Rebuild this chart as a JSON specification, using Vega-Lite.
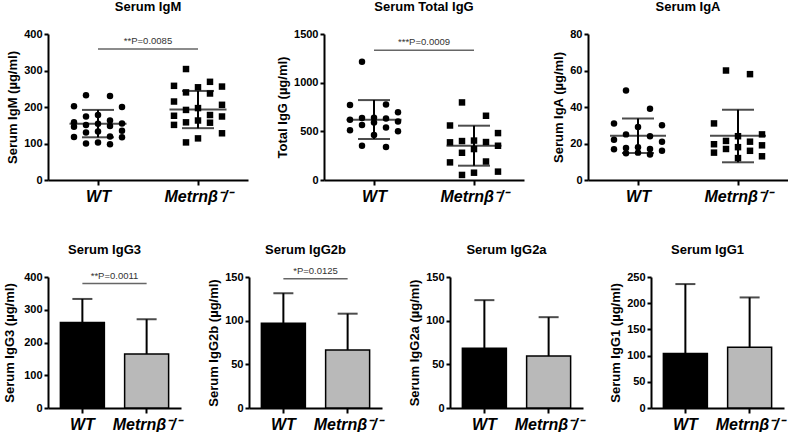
{
"$schema":"https://vega.github.io/schema/vega-lite/v6.json",
"padding":{"left":3,"top":1,"right":0,"bottom":0},
"background":"#ffffff",
"config":{
 "font":"Liberation Sans",
 "view":{"stroke":null},
 "axis":{"grid":false,"domainColor":"#000","domainWidth":2,"tickColor":"#000","tickWidth":2,"tickSize":4,"labelFont":"Liberation Sans","labelFontWeight":"bold","labelFontSize":11,"labelColor":"#000","titleFont":"Liberation Sans","titleFontWeight":"bold","titleFontSize":13,"titleColor":"#000","titlePadding":4,"labelOverlap":false},
 "title":{"font":"Liberation Sans","fontSize":13,"fontWeight":"bold","color":"#000"}
},
"datasets":{
 "scatter":[
  {"panel":"IgM","group":"WT","value":232},{"panel":"IgM","group":"WT","value":230},{"panel":"IgM","group":"WT","value":202},{"panel":"IgM","group":"WT","value":200},{"panel":"IgM","group":"WT","value":178},{"panel":"IgM","group":"WT","value":174},{"panel":"IgM","group":"WT","value":163},{"panel":"IgM","group":"WT","value":158},{"panel":"IgM","group":"WT","value":155},{"panel":"IgM","group":"WT","value":154},{"panel":"IgM","group":"WT","value":151},{"panel":"IgM","group":"WT","value":148},{"panel":"IgM","group":"WT","value":146},{"panel":"IgM","group":"WT","value":135},{"panel":"IgM","group":"WT","value":133},{"panel":"IgM","group":"WT","value":130},{"panel":"IgM","group":"WT","value":119},{"panel":"IgM","group":"WT","value":118},{"panel":"IgM","group":"WT","value":117},{"panel":"IgM","group":"WT","value":103},{"panel":"IgM","group":"WT","value":98},{"panel":"IgM","group":"WT","value":100},
  {"panel":"IgM","group":"Metrnβ⁻/⁻","value":304},{"panel":"IgM","group":"Metrnβ⁻/⁻","value":269},{"panel":"IgM","group":"Metrnβ⁻/⁻","value":258},{"panel":"IgM","group":"Metrnβ⁻/⁻","value":256},{"panel":"IgM","group":"Metrnβ⁻/⁻","value":254},{"panel":"IgM","group":"Metrnβ⁻/⁻","value":240},{"panel":"IgM","group":"Metrnβ⁻/⁻","value":237},{"panel":"IgM","group":"Metrnβ⁻/⁻","value":215},{"panel":"IgM","group":"Metrnβ⁻/⁻","value":206},{"panel":"IgM","group":"Metrnβ⁻/⁻","value":197},{"panel":"IgM","group":"Metrnβ⁻/⁻","value":192},{"panel":"IgM","group":"Metrnβ⁻/⁻","value":178},{"panel":"IgM","group":"Metrnβ⁻/⁻","value":176},{"panel":"IgM","group":"Metrnβ⁻/⁻","value":174},{"panel":"IgM","group":"Metrnβ⁻/⁻","value":163},{"panel":"IgM","group":"Metrnβ⁻/⁻","value":158},{"panel":"IgM","group":"Metrnβ⁻/⁻","value":157},{"panel":"IgM","group":"Metrnβ⁻/⁻","value":151},{"panel":"IgM","group":"Metrnβ⁻/⁻","value":128},{"panel":"IgM","group":"Metrnβ⁻/⁻","value":114},{"panel":"IgM","group":"Metrnβ⁻/⁻","value":103},
  {"panel":"IgG","group":"WT","value":1215},{"panel":"IgG","group":"WT","value":775},{"panel":"IgG","group":"WT","value":770},{"panel":"IgG","group":"WT","value":695},{"panel":"IgG","group":"WT","value":640},{"panel":"IgG","group":"WT","value":636},{"panel":"IgG","group":"WT","value":633},{"panel":"IgG","group":"WT","value":620},{"panel":"IgG","group":"WT","value":600},{"panel":"IgG","group":"WT","value":590},{"panel":"IgG","group":"WT","value":565},{"panel":"IgG","group":"WT","value":540},{"panel":"IgG","group":"WT","value":510},{"panel":"IgG","group":"WT","value":500},{"panel":"IgG","group":"WT","value":462},{"panel":"IgG","group":"WT","value":352},{"panel":"IgG","group":"WT","value":340},
  {"panel":"IgG","group":"Metrnβ⁻/⁻","value":797},{"panel":"IgG","group":"Metrnβ⁻/⁻","value":660},{"panel":"IgG","group":"Metrnβ⁻/⁻","value":560},{"panel":"IgG","group":"Metrnβ⁻/⁻","value":482},{"panel":"IgG","group":"Metrnβ⁻/⁻","value":405},{"panel":"IgG","group":"Metrnβ⁻/⁻","value":400},{"panel":"IgG","group":"Metrnβ⁻/⁻","value":390},{"panel":"IgG","group":"Metrnβ⁻/⁻","value":387},{"panel":"IgG","group":"Metrnβ⁻/⁻","value":352},{"panel":"IgG","group":"Metrnβ⁻/⁻","value":318},{"panel":"IgG","group":"Metrnβ⁻/⁻","value":280},{"panel":"IgG","group":"Metrnβ⁻/⁻","value":190},{"panel":"IgG","group":"Metrnβ⁻/⁻","value":181},{"panel":"IgG","group":"Metrnβ⁻/⁻","value":86},{"panel":"IgG","group":"Metrnβ⁻/⁻","value":75},{"panel":"IgG","group":"Metrnβ⁻/⁻","value":52},
  {"panel":"IgA","group":"WT","value":49},{"panel":"IgA","group":"WT","value":39},{"panel":"IgA","group":"WT","value":30},{"panel":"IgA","group":"WT","value":31},{"panel":"IgA","group":"WT","value":29},{"panel":"IgA","group":"WT","value":25},{"panel":"IgA","group":"WT","value":24},{"panel":"IgA","group":"WT","value":22},{"panel":"IgA","group":"WT","value":21},{"panel":"IgA","group":"WT","value":18},{"panel":"IgA","group":"WT","value":17},{"panel":"IgA","group":"WT","value":17.5},{"panel":"IgA","group":"WT","value":16.8},{"panel":"IgA","group":"WT","value":16},{"panel":"IgA","group":"WT","value":15},{"panel":"IgA","group":"WT","value":14},{"panel":"IgA","group":"WT","value":14.6},
  {"panel":"IgA","group":"Metrnβ⁻/⁻","value":60},{"panel":"IgA","group":"Metrnβ⁻/⁻","value":58},{"panel":"IgA","group":"Metrnβ⁻/⁻","value":31},{"panel":"IgA","group":"Metrnβ⁻/⁻","value":25},{"panel":"IgA","group":"Metrnβ⁻/⁻","value":24},{"panel":"IgA","group":"Metrnβ⁻/⁻","value":21},{"panel":"IgA","group":"Metrnβ⁻/⁻","value":21.4},{"panel":"IgA","group":"Metrnβ⁻/⁻","value":19},{"panel":"IgA","group":"Metrnβ⁻/⁻","value":19.6},{"panel":"IgA","group":"Metrnβ⁻/⁻","value":18},{"panel":"IgA","group":"Metrnβ⁻/⁻","value":17},{"panel":"IgA","group":"Metrnβ⁻/⁻","value":16},{"panel":"IgA","group":"Metrnβ⁻/⁻","value":15},{"panel":"IgA","group":"Metrnβ⁻/⁻","value":13},{"panel":"IgA","group":"Metrnβ⁻/⁻","value":12}
 ],
 "summary":[
  {"panel":"IgM","group":"WT","mean":154,"lo":117,"hi":192},{"panel":"IgM","group":"Metrnβ⁻/⁻","mean":193,"lo":142,"hi":244},
  {"panel":"IgG","group":"WT","mean":619,"lo":421,"hi":821},{"panel":"IgG","group":"Metrnβ⁻/⁻","mean":352,"lo":147,"hi":558},
  {"panel":"IgA","group":"WT","mean":24.2,"lo":14.8,"hi":33.7},{"panel":"IgA","group":"Metrnβ⁻/⁻","mean":24.2,"lo":9.7,"hi":38.5}
 ],
 "bars":[
  {"panel":"IgG3","group":"WT","mean":261,"hi":333},{"panel":"IgG3","group":"Metrnβ⁻/⁻","mean":165,"hi":271},
  {"panel":"IgG2b","group":"WT","mean":97,"hi":131.5},{"panel":"IgG2b","group":"Metrnβ⁻/⁻","mean":66.5,"hi":108},
  {"panel":"IgG2a","group":"WT","mean":68.5,"hi":123.5},{"panel":"IgG2a","group":"Metrnβ⁻/⁻","mean":59.5,"hi":104},
  {"panel":"IgG1","group":"WT","mean":104,"hi":236.5},{"panel":"IgG1","group":"Metrnβ⁻/⁻","mean":116,"hi":211}
 ],
 "sig":[
  {"panel":"IgM","group":"WT","y":359,"label":"**P=0.0085"},{"panel":"IgM","group":"Metrnβ⁻/⁻","y":359,"label":"**P=0.0085"},
  {"panel":"IgG","group":"WT","y":1334,"label":"***P=0.0009"},{"panel":"IgG","group":"Metrnβ⁻/⁻","y":1334,"label":"***P=0.0009"},
  {"panel":"IgG3","group":"WT","y":380,"label":"**P=0.0011"},{"panel":"IgG3","group":"Metrnβ⁻/⁻","y":380,"label":"**P=0.0011"},
  {"panel":"IgG2b","group":"WT","y":148,"label":"*P=0.0125"},{"panel":"IgG2b","group":"Metrnβ⁻/⁻","y":148,"label":"*P=0.0125"}
 ]
},
"spacing":39,
"vconcat":[
 {"spacing":28,"hconcat":[
  {"width":200,"height":146,"title":{"text":"Serum IgM","offset":14,"frame":"group"},
   "layer":[
    {"data":{"name":"scatter"},"transform":[{"filter":"datum.panel === 'IgM'"},{"window":[{"op":"row_number","as":"r"}],"groupby":["group"],"sort":[{"field":"value","order":"descending"}]},{"calculate":"[0,-1,1,-2,2][datum.r % 5]","as":"off"}],
     "mark":{"type":"point","filled":true,"size":42,"opacity":1,"color":"#000"},
     "encoding":{
      "x":{"field":"group","type":"nominal","scale":{"type":"point","domain":["WT","Metrnβ⁻/⁻"],"padding":0.5},"axis":{"title":null,"labelAngle":0,"labelFontSize":16,"labelFontStyle":"italic","labelPadding":3,"tickSize":5}},
      "xOffset":{"field":"off","type":"quantitative","scale":{"domain":[-2,2],"range":[-24,24]}},
      "y":{"field":"value","type":"quantitative","title":"Serum IgM (µg/ml)","scale":{"domain":[0,400]},"axis":{"values":[0,100,200,300,400],"format":"d"}},
      "shape":{"field":"group","type":"nominal","scale":{"domain":["WT","Metrnβ⁻/⁻"],"range":["circle","square"]},"legend":null}}},
    {"data":{"name":"summary"},"transform":[{"filter":"datum.panel === 'IgM'"}],"mark":{"type":"rule","color":"#000","strokeWidth":2},
     "encoding":{"x":{"field":"group","type":"nominal","scale":{"type":"point","domain":["WT","Metrnβ⁻/⁻"],"padding":0.5}},"y":{"field":"lo","type":"quantitative","title":"Serum IgM (µg/ml)","scale":{"domain":[0,400]},"axis":{"values":[0,100,200,300,400],"format":"d"}},"y2":{"field":"hi"}}},
    {"data":{"name":"summary"},"transform":[{"filter":"datum.panel === 'IgM'"}],"mark":{"type":"tick","color":"#000","size":57,"thickness":2},
     "encoding":{"x":{"field":"group","type":"nominal","scale":{"type":"point","domain":["WT","Metrnβ⁻/⁻"],"padding":0.5}},"y":{"field":"mean","type":"quantitative","title":"Serum IgM (µg/ml)","scale":{"domain":[0,400]},"axis":{"values":[0,100,200,300,400],"format":"d"}}}},
    {"data":{"name":"summary"},"transform":[{"filter":"datum.panel === 'IgM'"}],"mark":{"type":"tick","color":"#000","size":32,"thickness":2},
     "encoding":{"x":{"field":"group","type":"nominal","scale":{"type":"point","domain":["WT","Metrnβ⁻/⁻"],"padding":0.5}},"y":{"field":"lo","type":"quantitative","title":"Serum IgM (µg/ml)","scale":{"domain":[0,400]},"axis":{"values":[0,100,200,300,400],"format":"d"}}}},
    {"data":{"name":"summary"},"transform":[{"filter":"datum.panel === 'IgM'"}],"mark":{"type":"tick","color":"#000","size":32,"thickness":2},
     "encoding":{"x":{"field":"group","type":"nominal","scale":{"type":"point","domain":["WT","Metrnβ⁻/⁻"],"padding":0.5}},"y":{"field":"hi","type":"quantitative","title":"Serum IgM (µg/ml)","scale":{"domain":[0,400]},"axis":{"values":[0,100,200,300,400],"format":"d"}}}},
    {"data":{"name":"sig"},"transform":[{"filter":"datum.panel === 'IgM'"}],"mark":{"type":"line","color":"#666","strokeWidth":1.5},
     "encoding":{"x":{"field":"group","type":"nominal","scale":{"type":"point","domain":["WT","Metrnβ⁻/⁻"],"padding":0.5}},"y":{"field":"y","type":"quantitative","title":"Serum IgM (µg/ml)","scale":{"domain":[0,400]},"axis":{"values":[0,100,200,300,400],"format":"d"}}}},
    {"data":{"name":"sig"},"transform":[{"filter":"datum.panel === 'IgM' && datum.group === 'WT'"}],"mark":{"type":"text","fontSize":9.5,"color":"#333","baseline":"bottom","dy":-3},
     "encoding":{"y":{"field":"y","type":"quantitative","title":"Serum IgM (µg/ml)","scale":{"domain":[0,400]},"axis":{"values":[0,100,200,300,400],"format":"d"}},"text":{"field":"label"}}}
   ]},
  {"width":200,"height":146,"title":{"text":"Serum Total IgG","offset":14,"frame":"group"},
   "layer":[
    {"data":{"name":"scatter"},"transform":[{"filter":"datum.panel === 'IgG'"},{"window":[{"op":"row_number","as":"r"}],"groupby":["group"],"sort":[{"field":"value","order":"descending"}]},{"calculate":"[0,-1,1,-2,2][datum.r % 5]","as":"off"}],
     "mark":{"type":"point","filled":true,"size":42,"opacity":1,"color":"#000"},
     "encoding":{
      "x":{"field":"group","type":"nominal","scale":{"type":"point","domain":["WT","Metrnβ⁻/⁻"],"padding":0.5},"axis":{"title":null,"labelAngle":0,"labelFontSize":16,"labelFontStyle":"italic","labelPadding":3,"tickSize":5}},
      "xOffset":{"field":"off","type":"quantitative","scale":{"domain":[-2,2],"range":[-24,24]}},
      "y":{"field":"value","type":"quantitative","title":"Total IgG (µg/ml)","scale":{"domain":[0,1500]},"axis":{"values":[0,500,1000,1500],"format":"d"}},
      "shape":{"field":"group","type":"nominal","scale":{"domain":["WT","Metrnβ⁻/⁻"],"range":["circle","square"]},"legend":null}}},
    {"data":{"name":"summary"},"transform":[{"filter":"datum.panel === 'IgG'"}],"mark":{"type":"rule","color":"#000","strokeWidth":2},
     "encoding":{"x":{"field":"group","type":"nominal","scale":{"type":"point","domain":["WT","Metrnβ⁻/⁻"],"padding":0.5}},"y":{"field":"lo","type":"quantitative","title":"Total IgG (µg/ml)","scale":{"domain":[0,1500]},"axis":{"values":[0,500,1000,1500],"format":"d"}},"y2":{"field":"hi"}}},
    {"data":{"name":"summary"},"transform":[{"filter":"datum.panel === 'IgG'"}],"mark":{"type":"tick","color":"#000","size":55,"thickness":2},
     "encoding":{"x":{"field":"group","type":"nominal","scale":{"type":"point","domain":["WT","Metrnβ⁻/⁻"],"padding":0.5}},"y":{"field":"mean","type":"quantitative","title":"Total IgG (µg/ml)","scale":{"domain":[0,1500]},"axis":{"values":[0,500,1000,1500],"format":"d"}}}},
    {"data":{"name":"summary"},"transform":[{"filter":"datum.panel === 'IgG'"}],"mark":{"type":"tick","color":"#000","size":32,"thickness":2},
     "encoding":{"x":{"field":"group","type":"nominal","scale":{"type":"point","domain":["WT","Metrnβ⁻/⁻"],"padding":0.5}},"y":{"field":"lo","type":"quantitative","title":"Total IgG (µg/ml)","scale":{"domain":[0,1500]},"axis":{"values":[0,500,1000,1500],"format":"d"}}}},
    {"data":{"name":"summary"},"transform":[{"filter":"datum.panel === 'IgG'"}],"mark":{"type":"tick","color":"#000","size":32,"thickness":2},
     "encoding":{"x":{"field":"group","type":"nominal","scale":{"type":"point","domain":["WT","Metrnβ⁻/⁻"],"padding":0.5}},"y":{"field":"hi","type":"quantitative","title":"Total IgG (µg/ml)","scale":{"domain":[0,1500]},"axis":{"values":[0,500,1000,1500],"format":"d"}}}},
    {"data":{"name":"sig"},"transform":[{"filter":"datum.panel === 'IgG'"}],"mark":{"type":"line","color":"#666","strokeWidth":1.5},
     "encoding":{"x":{"field":"group","type":"nominal","scale":{"type":"point","domain":["WT","Metrnβ⁻/⁻"],"padding":0.5}},"y":{"field":"y","type":"quantitative","title":"Total IgG (µg/ml)","scale":{"domain":[0,1500]},"axis":{"values":[0,500,1000,1500],"format":"d"}}}},
    {"data":{"name":"sig"},"transform":[{"filter":"datum.panel === 'IgG' && datum.group === 'WT'"}],"mark":{"type":"text","fontSize":9.5,"color":"#333","baseline":"bottom","dy":-3},
     "encoding":{"y":{"field":"y","type":"quantitative","title":"Total IgG (µg/ml)","scale":{"domain":[0,1500]},"axis":{"values":[0,500,1000,1500],"format":"d"}},"text":{"field":"label"}}}
   ]},
  {"width":200,"height":146,"title":{"text":"Serum IgA","offset":14,"frame":"group"},
   "layer":[
    {"data":{"name":"scatter"},"transform":[{"filter":"datum.panel === 'IgA'"},{"window":[{"op":"row_number","as":"r"}],"groupby":["group"],"sort":[{"field":"value","order":"descending"}]},{"calculate":"[0,-1,1,-2,2][datum.r % 5]","as":"off"}],
     "mark":{"type":"point","filled":true,"size":42,"opacity":1,"color":"#000"},
     "encoding":{
      "x":{"field":"group","type":"nominal","scale":{"type":"point","domain":["WT","Metrnβ⁻/⁻"],"padding":0.5},"axis":{"title":null,"labelAngle":0,"labelFontSize":16,"labelFontStyle":"italic","labelPadding":3,"tickSize":5}},
      "xOffset":{"field":"off","type":"quantitative","scale":{"domain":[-2,2],"range":[-24,24]}},
      "y":{"field":"value","type":"quantitative","title":"Serum IgA (µg/ml)","scale":{"domain":[0,80]},"axis":{"values":[0,20,40,60,80],"format":"d"}},
      "shape":{"field":"group","type":"nominal","scale":{"domain":["WT","Metrnβ⁻/⁻"],"range":["circle","square"]},"legend":null}}},
    {"data":{"name":"summary"},"transform":[{"filter":"datum.panel === 'IgA'"}],"mark":{"type":"rule","color":"#000","strokeWidth":2},
     "encoding":{"x":{"field":"group","type":"nominal","scale":{"type":"point","domain":["WT","Metrnβ⁻/⁻"],"padding":0.5}},"y":{"field":"lo","type":"quantitative","title":"Serum IgA (µg/ml)","scale":{"domain":[0,80]},"axis":{"values":[0,20,40,60,80],"format":"d"}},"y2":{"field":"hi"}}},
    {"data":{"name":"summary"},"transform":[{"filter":"datum.panel === 'IgA'"}],"mark":{"type":"tick","color":"#000","size":56,"thickness":2},
     "encoding":{"x":{"field":"group","type":"nominal","scale":{"type":"point","domain":["WT","Metrnβ⁻/⁻"],"padding":0.5}},"y":{"field":"mean","type":"quantitative","title":"Serum IgA (µg/ml)","scale":{"domain":[0,80]},"axis":{"values":[0,20,40,60,80],"format":"d"}}}},
    {"data":{"name":"summary"},"transform":[{"filter":"datum.panel === 'IgA'"}],"mark":{"type":"tick","color":"#000","size":32,"thickness":2},
     "encoding":{"x":{"field":"group","type":"nominal","scale":{"type":"point","domain":["WT","Metrnβ⁻/⁻"],"padding":0.5}},"y":{"field":"lo","type":"quantitative","title":"Serum IgA (µg/ml)","scale":{"domain":[0,80]},"axis":{"values":[0,20,40,60,80],"format":"d"}}}},
    {"data":{"name":"summary"},"transform":[{"filter":"datum.panel === 'IgA'"}],"mark":{"type":"tick","color":"#000","size":32,"thickness":2},
     "encoding":{"x":{"field":"group","type":"nominal","scale":{"type":"point","domain":["WT","Metrnβ⁻/⁻"],"padding":0.5}},"y":{"field":"hi","type":"quantitative","title":"Serum IgA (µg/ml)","scale":{"domain":[0,80]},"axis":{"values":[0,20,40,60,80],"format":"d"}}}}
   ]}
 ]},
 {"spacing":26,"hconcat":[
  {"width":133,"height":131,"title":{"text":"Serum IgG3","offset":14,"frame":"group","dx":-10},
   "layer":[
    {"data":{"name":"bars"},"transform":[{"filter":"datum.panel === 'IgG3'"}],"mark":{"type":"bar","stroke":"#000","strokeWidth":1.5,"width":44},
     "encoding":{
      "x":{"field":"group","type":"nominal","scale":{"type":"band","domain":["WT","Metrnβ⁻/⁻"],"paddingInner":0.31,"paddingOuter":0.19},"axis":{"title":null,"labelAngle":0,"labelFontSize":16,"labelFontStyle":"italic","labelPadding":3,"tickSize":5}},
      "y":{"field":"mean","type":"quantitative","title":"Serum IgG3 (µg/ml)","scale":{"domain":[0,400]},"axis":{"values":[0,100,200,300,400],"format":"d","titlePadding":7}},
      "color":{"field":"group","type":"nominal","scale":{"domain":["WT","Metrnβ⁻/⁻"],"range":["#000000","#b9b9b9"]},"legend":null}}},
    {"data":{"name":"bars"},"transform":[{"filter":"datum.panel === 'IgG3'"}],"mark":{"type":"rule","color":"#000","strokeWidth":2},
     "encoding":{"x":{"field":"group","type":"nominal","scale":{"type":"band","domain":["WT","Metrnβ⁻/⁻"],"paddingInner":0.31,"paddingOuter":0.19}},"y":{"field":"mean","type":"quantitative","title":"Serum IgG3 (µg/ml)","scale":{"domain":[0,400]},"axis":{"values":[0,100,200,300,400],"format":"d","titlePadding":7}},"y2":{"field":"hi"}}},
    {"data":{"name":"bars"},"transform":[{"filter":"datum.panel === 'IgG3'"}],"mark":{"type":"tick","color":"#000","size":20,"thickness":2,"orient":"horizontal"},
     "encoding":{"x":{"field":"group","type":"nominal","scale":{"type":"band","domain":["WT","Metrnβ⁻/⁻"],"paddingInner":0.31,"paddingOuter":0.19}},"y":{"field":"hi","type":"quantitative","title":"Serum IgG3 (µg/ml)","scale":{"domain":[0,400]},"axis":{"values":[0,100,200,300,400],"format":"d","titlePadding":7}}}},
    {"data":{"name":"sig"},"transform":[{"filter":"datum.panel === 'IgG3'"}],"mark":{"type":"line","color":"#666","strokeWidth":1.5},
     "encoding":{"x":{"field":"group","type":"nominal","scale":{"type":"band","domain":["WT","Metrnβ⁻/⁻"],"paddingInner":0.31,"paddingOuter":0.19}},"y":{"field":"y","type":"quantitative","title":"Serum IgG3 (µg/ml)","scale":{"domain":[0,400]},"axis":{"values":[0,100,200,300,400],"format":"d","titlePadding":7}}}},
    {"data":{"name":"sig"},"transform":[{"filter":"datum.panel === 'IgG3' && datum.group === 'WT'"}],"mark":{"type":"text","fontSize":9.5,"color":"#333","baseline":"bottom","dy":-3},
     "encoding":{"y":{"field":"y","type":"quantitative","title":"Serum IgG3 (µg/ml)","scale":{"domain":[0,400]},"axis":{"values":[0,100,200,300,400],"format":"d","titlePadding":7}},"text":{"field":"label"}}}
   ]},
  {"width":133,"height":131,"title":{"text":"Serum IgG2b","offset":9,"frame":"group","dx":-10},
   "layer":[
    {"data":{"name":"bars"},"transform":[{"filter":"datum.panel === 'IgG2b'"}],"mark":{"type":"bar","stroke":"#000","strokeWidth":1.5,"width":44},
     "encoding":{
      "x":{"field":"group","type":"nominal","scale":{"type":"band","domain":["WT","Metrnβ⁻/⁻"],"paddingInner":0.31,"paddingOuter":0.19},"axis":{"title":null,"labelAngle":0,"labelFontSize":16,"labelFontStyle":"italic","labelPadding":3,"tickSize":5}},
      "y":{"field":"mean","type":"quantitative","title":"Serum IgG2b (µg/ml)","scale":{"domain":[0,150]},"axis":{"values":[0,50,100,150],"format":"d"}},
      "color":{"field":"group","type":"nominal","scale":{"domain":["WT","Metrnβ⁻/⁻"],"range":["#000000","#b9b9b9"]},"legend":null}}},
    {"data":{"name":"bars"},"transform":[{"filter":"datum.panel === 'IgG2b'"}],"mark":{"type":"rule","color":"#000","strokeWidth":2},
     "encoding":{"x":{"field":"group","type":"nominal","scale":{"type":"band","domain":["WT","Metrnβ⁻/⁻"],"paddingInner":0.31,"paddingOuter":0.19}},"y":{"field":"mean","type":"quantitative","title":"Serum IgG2b (µg/ml)","scale":{"domain":[0,150]},"axis":{"values":[0,50,100,150],"format":"d"}},"y2":{"field":"hi"}}},
    {"data":{"name":"bars"},"transform":[{"filter":"datum.panel === 'IgG2b'"}],"mark":{"type":"tick","color":"#000","size":20,"thickness":2,"orient":"horizontal"},
     "encoding":{"x":{"field":"group","type":"nominal","scale":{"type":"band","domain":["WT","Metrnβ⁻/⁻"],"paddingInner":0.31,"paddingOuter":0.19}},"y":{"field":"hi","type":"quantitative","title":"Serum IgG2b (µg/ml)","scale":{"domain":[0,150]},"axis":{"values":[0,50,100,150],"format":"d"}}}},
    {"data":{"name":"sig"},"transform":[{"filter":"datum.panel === 'IgG2b'"}],"mark":{"type":"line","color":"#666","strokeWidth":1.5},
     "encoding":{"x":{"field":"group","type":"nominal","scale":{"type":"band","domain":["WT","Metrnβ⁻/⁻"],"paddingInner":0.31,"paddingOuter":0.19}},"y":{"field":"y","type":"quantitative","title":"Serum IgG2b (µg/ml)","scale":{"domain":[0,150]},"axis":{"values":[0,50,100,150],"format":"d"}}}},
    {"data":{"name":"sig"},"transform":[{"filter":"datum.panel === 'IgG2b' && datum.group === 'WT'"}],"mark":{"type":"text","fontSize":9.5,"color":"#333","baseline":"bottom","dy":-3},
     "encoding":{"y":{"field":"y","type":"quantitative","title":"Serum IgG2b (µg/ml)","scale":{"domain":[0,150]},"axis":{"values":[0,50,100,150],"format":"d"}},"text":{"field":"label"}}}
   ]},
  {"width":133,"height":131,"title":{"text":"Serum IgG2a","offset":14,"frame":"group","dx":-10},
   "layer":[
    {"data":{"name":"bars"},"transform":[{"filter":"datum.panel === 'IgG2a'"}],"mark":{"type":"bar","stroke":"#000","strokeWidth":1.5,"width":44},
     "encoding":{
      "x":{"field":"group","type":"nominal","scale":{"type":"band","domain":["WT","Metrnβ⁻/⁻"],"paddingInner":0.31,"paddingOuter":0.19},"axis":{"title":null,"labelAngle":0,"labelFontSize":16,"labelFontStyle":"italic","labelPadding":3,"tickSize":5}},
      "y":{"field":"mean","type":"quantitative","title":"Serum IgG2a (µg/ml)","scale":{"domain":[0,150]},"axis":{"values":[0,50,100,150],"format":"d"}},
      "color":{"field":"group","type":"nominal","scale":{"domain":["WT","Metrnβ⁻/⁻"],"range":["#000000","#b9b9b9"]},"legend":null}}},
    {"data":{"name":"bars"},"transform":[{"filter":"datum.panel === 'IgG2a'"}],"mark":{"type":"rule","color":"#000","strokeWidth":2},
     "encoding":{"x":{"field":"group","type":"nominal","scale":{"type":"band","domain":["WT","Metrnβ⁻/⁻"],"paddingInner":0.31,"paddingOuter":0.19}},"y":{"field":"mean","type":"quantitative","title":"Serum IgG2a (µg/ml)","scale":{"domain":[0,150]},"axis":{"values":[0,50,100,150],"format":"d"}},"y2":{"field":"hi"}}},
    {"data":{"name":"bars"},"transform":[{"filter":"datum.panel === 'IgG2a'"}],"mark":{"type":"tick","color":"#000","size":20,"thickness":2,"orient":"horizontal"},
     "encoding":{"x":{"field":"group","type":"nominal","scale":{"type":"band","domain":["WT","Metrnβ⁻/⁻"],"paddingInner":0.31,"paddingOuter":0.19}},"y":{"field":"hi","type":"quantitative","title":"Serum IgG2a (µg/ml)","scale":{"domain":[0,150]},"axis":{"values":[0,50,100,150],"format":"d"}}}}
   ]},
  {"width":133,"height":131,"title":{"text":"Serum IgG1","offset":14,"frame":"group","dx":-10},
   "layer":[
    {"data":{"name":"bars"},"transform":[{"filter":"datum.panel === 'IgG1'"}],"mark":{"type":"bar","stroke":"#000","strokeWidth":1.5,"width":44},
     "encoding":{
      "x":{"field":"group","type":"nominal","scale":{"type":"band","domain":["WT","Metrnβ⁻/⁻"],"paddingInner":0.31,"paddingOuter":0.19},"axis":{"title":null,"labelAngle":0,"labelFontSize":16,"labelFontStyle":"italic","labelPadding":3,"tickSize":5}},
      "y":{"field":"mean","type":"quantitative","title":"Serum IgG1 (µg/ml)","scale":{"domain":[0,250]},"axis":{"values":[0,50,100,150,200,250],"format":"d"}},
      "color":{"field":"group","type":"nominal","scale":{"domain":["WT","Metrnβ⁻/⁻"],"range":["#000000","#b9b9b9"]},"legend":null}}},
    {"data":{"name":"bars"},"transform":[{"filter":"datum.panel === 'IgG1'"}],"mark":{"type":"rule","color":"#000","strokeWidth":2},
     "encoding":{"x":{"field":"group","type":"nominal","scale":{"type":"band","domain":["WT","Metrnβ⁻/⁻"],"paddingInner":0.31,"paddingOuter":0.19}},"y":{"field":"mean","type":"quantitative","title":"Serum IgG1 (µg/ml)","scale":{"domain":[0,250]},"axis":{"values":[0,50,100,150,200,250],"format":"d"}},"y2":{"field":"hi"}}},
    {"data":{"name":"bars"},"transform":[{"filter":"datum.panel === 'IgG1'"}],"mark":{"type":"tick","color":"#000","size":20,"thickness":2,"orient":"horizontal"},
     "encoding":{"x":{"field":"group","type":"nominal","scale":{"type":"band","domain":["WT","Metrnβ⁻/⁻"],"paddingInner":0.31,"paddingOuter":0.19}},"y":{"field":"hi","type":"quantitative","title":"Serum IgG1 (µg/ml)","scale":{"domain":[0,250]},"axis":{"values":[0,50,100,150,200,250],"format":"d"}}}}
   ]}
 ]}
]
}
